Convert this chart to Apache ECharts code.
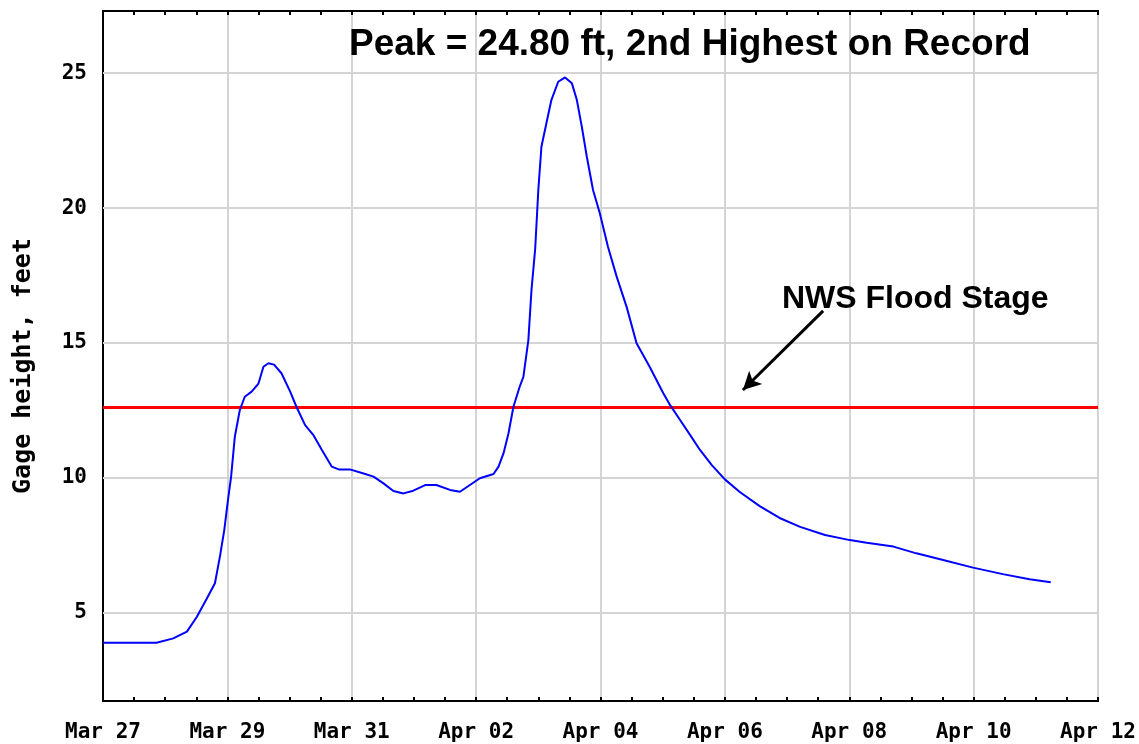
<!DOCTYPE html>
<html>
<head>
<meta charset="utf-8">
<title>Gage height</title>
<script src="https://cdn.jsdelivr.net/npm/echarts@6/dist/echarts.min.js"></script>
<style>
  html, body { margin: 0; padding: 0; background: #ffffff; }
  #chart { width: 1139px; height: 744px; }
</style>
</head>
<body>
<div id="chart"></div>
<script>
// x = days since Mar 27 00:00
const dayLabels = ['Mar 27', 'Mar 29', 'Mar 31', 'Apr 02', 'Apr 04', 'Apr 06', 'Apr 08', 'Apr 10', 'Apr 12']
const yTicks = [5, 10, 15, 20, 25]
const floodStage = 12.64

const gageDays = [
  0, 0.86, 1.13, 1.35, 1.51, 1.67, 1.80, 1.88, 1.95, 2.01, 2.06, 2.12, 2.20, 2.28, 2.39, 2.50,
  2.58, 2.66, 2.75, 2.87, 3.01, 3.11, 3.25, 3.38, 3.52, 3.68, 3.79, 3.97, 4.19, 4.35, 4.51,
  4.67, 4.83, 4.99, 5.18, 5.36, 5.58, 5.74, 5.90, 6.06, 6.28, 6.36, 6.44, 6.52, 6.60, 6.70,
  6.76, 6.84, 6.89, 6.95, 7.00, 7.05, 7.13, 7.21, 7.32, 7.43, 7.54, 7.62, 7.70, 7.78, 7.88,
  7.99, 8.12, 8.26, 8.42, 8.58, 8.79, 9.01, 9.12, 9.28, 9.44, 9.60, 9.79, 10.0, 10.24, 10.56,
  10.88, 11.21, 11.61, 12.01, 12.28, 12.71, 13.08, 13.51, 13.99, 14.47, 14.90, 15.24
]
const gageFeet = [
  3.9, 3.9, 4.06, 4.31, 4.86, 5.54, 6.1, 7.09, 8.07, 9.19, 10.05, 11.53, 12.52, 13.01, 13.2, 13.5,
  14.12, 14.25, 14.2, 13.88, 13.2, 12.64, 11.96, 11.6, 11.04, 10.42, 10.32, 10.32, 10.17, 10.05, 9.8,
  9.52, 9.43, 9.53, 9.74, 9.74, 9.56, 9.49, 9.74, 9.99, 10.15, 10.42, 10.91, 11.65, 12.64, 13.38,
  13.75, 15.11, 16.96, 18.5, 20.67, 22.27, 23.14, 24.0, 24.68, 24.84, 24.62, 24.0, 23.01, 21.9, 20.67,
  19.8, 18.57, 17.46, 16.34, 14.99, 14.12, 13.14, 12.7, 12.15, 11.6, 11.04, 10.48, 9.95, 9.48, 8.96,
  8.52, 8.19, 7.89, 7.7, 7.6, 7.46, 7.21, 6.96, 6.68, 6.44, 6.25, 6.14
]

// arrow pointing at the flood stage line, in data units
const arrowFrom = [11.58, 16.19]
const arrowTo = [10.29, 13.26]

const chart = echarts.init(document.getElementById('chart'))

const labelFont = {
  fontFamily: 'DejaVu Sans Mono',
  fontWeight: 'bold',
  fontSize: 21,
  color: '#000'
}

const gridLines = yTicks.map(v => {
  return { yAxis: v, lineStyle: { color: '#d4d4d4', width: 2, type: 'solid' } }
})

const xAxisBase = {
  type: 'value',
  min: 0,
  max: 16,
  interval: 2,
  axisLine: { show: true, lineStyle: { color: '#000', width: 2 } },
  axisTick: { show: true, inside: true, length: 4, lineStyle: { color: '#000', width: 2 } },
  minorTick: { show: true, splitNumber: 4, length: 4, lineStyle: { color: '#000', width: 2 } },
  splitLine: { show: false }
}

const option = {
  animation: false,
  backgroundColor: '#fff',
  title: [
    {
      text: 'Peak = 24.80 ft, 2nd Highest on Record',
      left: 344,
      top: 21,
      textStyle: { fontFamily: 'Liberation Sans', fontWeight: 'bold', fontSize: 37, color: '#000' }
    },
    {
      text: 'NWS Flood Stage',
      left: 777,
      top: 278,
      textStyle: { fontFamily: 'Liberation Sans', fontWeight: 'bold', fontSize: 32, color: '#000' }
    }
  ],
  grid: {
    left: 103,
    right: 41,
    top: 11,
    bottom: 43,
    show: true,
    borderColor: '#000',
    borderWidth: 2
  },
  xAxis: [
    Object.assign({}, xAxisBase, {
      position: 'bottom',
      splitLine: { show: true, lineStyle: { color: '#d4d4d4', width: 2 } },
      axisLabel: Object.assign({}, labelFont, {
        margin: 21,
        formatter: v => dayLabels[v / 2]
      })
    }),
    Object.assign({}, xAxisBase, {
      position: 'top',
      axisLabel: { show: false }
    })
  ],
  yAxis: {
    type: 'value',
    min: 1.74,
    max: 27.3,
    name: 'Gage height, feet',
    nameLocation: 'middle',
    nameRotate: 90,
    nameGap: 67,
    nameTextStyle: {
      fontFamily: 'DejaVu Sans Mono',
      fontWeight: 'bold',
      fontSize: 25,
      color: '#000',
      padding: [0, 20, 0, 0]
    },
    axisLine: { show: true, lineStyle: { color: '#000', width: 2 } },
    axisTick: { show: false, customValues: yTicks },
    splitLine: { show: false },
    axisLabel: Object.assign({}, labelFont, {
      margin: 16,
      customValues: yTicks
    })
  },
  series: [
    {
      type: 'line',
      data: gageDays.map((d, i) => [d, gageFeet[i]]),
      showSymbol: false,
      z: 5,
      lineStyle: { color: '#0000ff', width: 2 },
      markLine: {
        silent: true,
        symbol: 'none',
        label: { show: false },
        z: 1,
        data: gridLines
      }
    },
    {
      // flood stage and the pointer arrow
      type: 'line',
      data: [],
      z: 6,
      markLine: {
        silent: true,
        symbol: 'none',
        label: { show: false },
        data: [
          { yAxis: floodStage, lineStyle: { color: '#ff0000', width: 3, type: 'solid' } },
          [
            { coord: arrowFrom, symbol: 'none' },
            { coord: arrowTo, symbol: 'arrow', symbolSize: [14, 18], lineStyle: { color: '#000', width: 3, type: 'solid' } }
          ]
        ]
      }
    }
  ]
}

chart.setOption(option)
</script>
</body>
</html>
